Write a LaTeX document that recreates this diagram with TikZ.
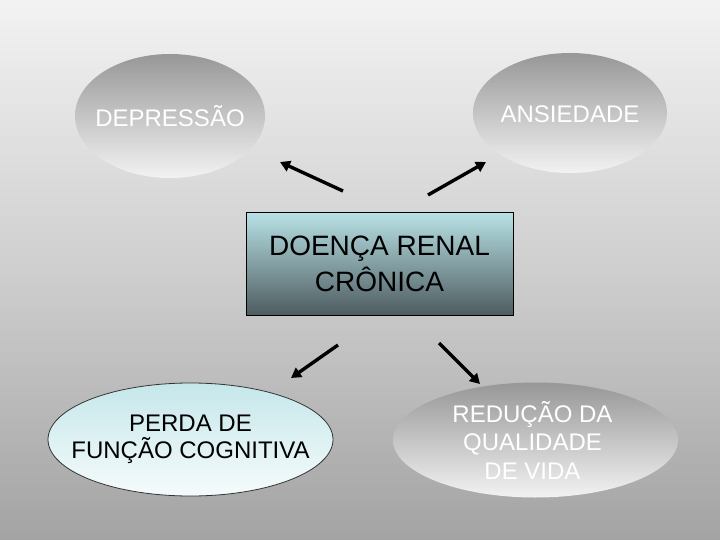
\documentclass[tikz,border=0pt]{standalone}
\usepackage{fontspec}
\setmainfont{Liberation Sans}
\usetikzlibrary{shapes.geometric,arrows.meta}
\definecolor{bgA}{gray}{0.50}
\definecolor{bgB}{gray}{0.64}
\definecolor{bgC}{gray}{0.81}
\definecolor{bgD}{gray}{0.95}
\definecolor{ellgray}{gray}{0.50}
\definecolor{cyantop}{RGB}{183,225,229}
\definecolor{boxbot}{RGB}{78,92,96}
\pgfdeclareverticalshading{bgshade}{100bp}{color(0bp)=(bgA); color(25bp)=(bgB); color(50bp)=(bgC); color(75bp)=(bgD); color(100bp)=(white)}
\pgfdeclareverticalshading{grayell}{100bp}{color(0bp)=(white); color(18bp)=(white); color(88bp)=(ellgray); color(100bp)=(ellgray)}
\pgfdeclareverticalshading{cyanell}{100bp}{color(0bp)=(white); color(15bp)=(white); color(90bp)=(cyantop); color(100bp)=(cyantop)}
\tikzset{
  grayoval/.style={ellipse, shade, shading=grayell, inner sep=0pt},
  cyanoval/.style={ellipse, shade, shading=cyanell, draw=black!80, line width=0.8pt, inner sep=0pt},
  mainbox/.style={rectangle, top color=cyantop, bottom color=boxbot, draw=black, line width=1pt, align=center, inner sep=0pt},
  whitetext/.style={text=white, align=center, inner sep=0pt, font=\fontsize{24}{28.5}\selectfont},
  blacktext/.style={text=black, align=center, inner sep=0pt, font=\fontsize{24}{27}\selectfont},
  thickarrow/.style={line width=3.4pt, -{Triangle[length=10pt,width=11pt]}, black}
}
\begin{document}
\begin{tikzpicture}[x=1pt,y=-1pt]
\useasboundingbox (0,0) rectangle (720,540);
\shade[shading=bgshade] (0,0) rectangle (720,540);

\node[grayoval, minimum width=190pt, minimum height=124pt] (dep) at (170,116) {};
\node[whitetext] (deptext) at (dep.center) {DEPRESSÃO};
\node[grayoval, minimum width=194pt, minimum height=120pt] (ans) at (570,113) {};
\node[whitetext] (anstext) at ([yshift=-1pt]ans.center) {ANSIEDADE};
\node[mainbox, minimum width=267pt, minimum height=102pt, font=\fontsize{28}{36}\selectfont] (drc) at (379.5,264) {DOENÇA RENAL\\CRÔNICA};
\node[cyanoval, minimum width=285pt, minimum height=113pt] (perda) at (190.5,439.5) {};
\node[blacktext] (perdatext) at (perda.center) {PERDA DE\\FUNÇÃO COGNITIVA};
\node[grayoval, minimum width=285pt, minimum height=115pt] (red) at (535.5,440) {};
\node[whitetext] (redtext) at ([xshift=-3pt]red.center) {REDUÇÃO DA\\QUALIDADE\\DE VIDA};

\coordinate (a1s) at (343,191);
\coordinate (a1e) at (280,162);
\coordinate (a2s) at (428,195);
\coordinate (a2e) at (486,162);
\coordinate (a3s) at (338,345);
\coordinate (a3e) at (291,378);
\coordinate (a4s) at (439,343);
\coordinate (a4e) at (480,384);

\draw[thickarrow] (a1s) -- (a1e);
\draw[thickarrow] (a2s) -- (a2e);
\draw[thickarrow] (a3s) -- (a3e);
\draw[thickarrow] (a4s) -- (a4e);
\end{tikzpicture}
\end{document}
